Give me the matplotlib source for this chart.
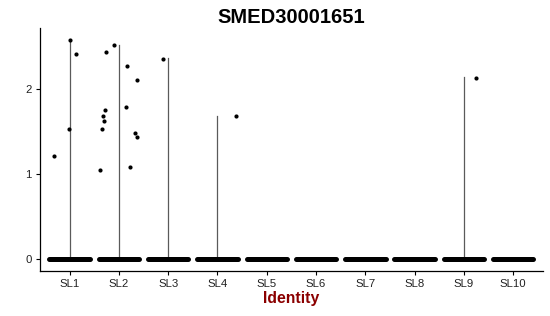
import matplotlib
matplotlib.use("Agg")
import matplotlib.pyplot as plt

plt.rcParams['font.family'] = ['Liberation Sans', 'DejaVu Sans']

categories = ["SL1", "SL2", "SL3", "SL4", "SL5", "SL6", "SL7", "SL8", "SL9", "SL10"]
# maximum expression per identity (top of the trimmed violin)
max_values = [2.58, 2.52, 2.37, 1.68, 0, 0, 0, 0, 2.14, 0]
# non-zero expression values per identity, with read horizontal jitter
nz_values = {
    "SL1": [1.22, 2.585, 2.42, 1.53],
    "SL2": [1.05, 1.53, 1.69, 1.63, 1.75, 2.44, 2.52, 2.27, 1.79, 2.11, 1.48, 1.44, 1.08],
    "SL3": [2.36],
    "SL4": [1.68],
    "SL9": [2.13],
}
nz_jitter = {
    "SL1": [-0.31, 0.0, 0.14, -0.02],
    "SL2": [-0.39, -0.35, -0.32, -0.30, -0.28, -0.27, -0.10, 0.16, 0.14, 0.37, 0.32, 0.36, 0.22],
    "SL3": [-0.10],
    "SL4": [0.38],
    "SL9": [0.25],
}

fig = plt.figure(figsize=(5.5, 3.16), dpi=100)
ax = fig.add_axes([0.0727, 0.1424, 0.9143, 0.7686])

positions = list(range(1, len(categories) + 1))
for pos, cat, mx in zip(positions, categories, max_values):
    # zero strip (violin base + jittered zero points)
    ax.plot([pos - 0.41, pos + 0.41], [0, 0], color="black", lw=3.6,
            solid_capstyle="round", zorder=3)
    if mx > 0:
        ax.plot([pos, pos], [0, mx], color="#5a5a5a", lw=0.9, zorder=2)
    if cat in nz_values:
        xs = [pos + j for j in nz_jitter[cat]]
        ax.scatter(xs, nz_values[cat], s=9, color="black", zorder=4, linewidths=0)

ax.set_xlim(0.4, 10.6)
ax.set_ylim(-0.14, 2.72)
ax.set_xticks(positions)
ax.set_xticklabels(categories, fontsize=8.2, color="#222222")
ax.set_yticks([0, 1, 2])
ax.set_yticklabels(["0", "1", "2"], fontsize=8.2, color="#222222")
ax.tick_params(axis="both", length=3, width=0.8, color="black", pad=3)
for s in ["top", "right"]:
    ax.spines[s].set_visible(False)
for s in ["left", "bottom"]:
    ax.spines[s].set_linewidth(0.9)
ax.set_title("SMED30001651", fontsize=14.5, fontweight="bold", pad=4)
ax.set_xlabel("Identity", fontsize=11.3, fontweight="bold", color="#8B0000", labelpad=1)

fig.savefig("out.png", dpi=100)
